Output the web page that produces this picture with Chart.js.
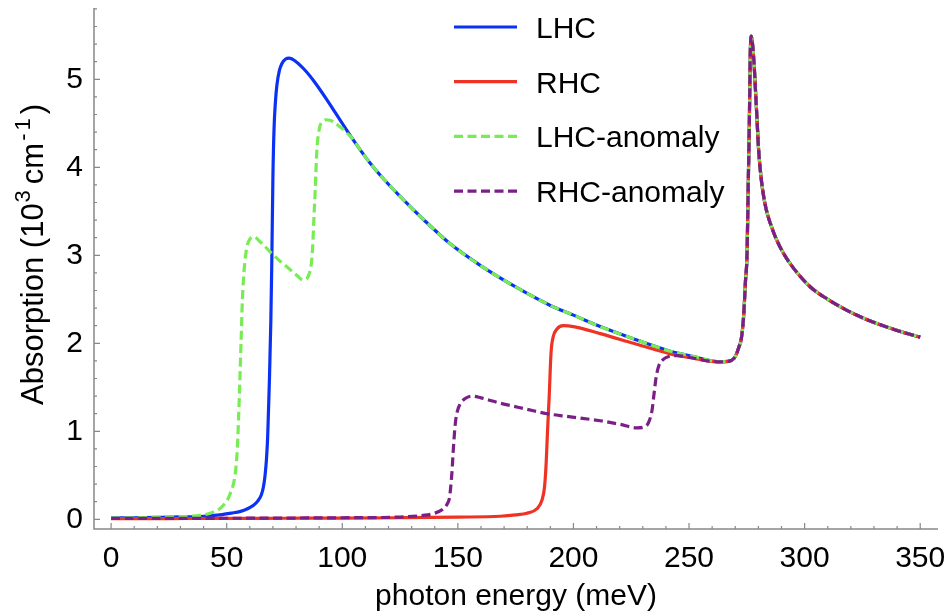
<!DOCTYPE html>
<html>
<head>
<meta charset="utf-8">
<script src="https://cdn.jsdelivr.net/npm/chart.js@4.4.1/dist/chart.umd.min.js"></script>
<style>
  html, body { margin: 0; padding: 0; background: #fff; }
</style>
</head>
<body>
<canvas id="chart" width="950" height="615"></canvas>
<script>
// --- data ---

const xTicks = [0, 50, 100, 150, 200, 250, 300, 350];
const yTicks = [0, 1, 2, 3, 4, 5];
const seriesNames = ['LHC', 'RHC', 'LHC-anomaly', 'RHC-anomaly'];

// LHC up to 100 meV
const lhcLowX = [0, 10, 20, 30, 40, 47, 52, 56, 59, 61.6, 63.5, 65, 65.9, 66.6, 67.2, 67.7, 68.1, 68.5, 69.1, 69.5, 70, 70.5, 71.1, 71.7, 72.8, 73.9, 75.5, 77, 80, 84, 88, 93.3, 97, 100];
const lhcLowY = [0.015, 0.018, 0.022, 0.027, 0.035, 0.05, 0.07, 0.09, 0.12, 0.16, 0.21, 0.28, 0.37, 0.5, 0.68, 0.92, 1.25, 1.6, 2.26, 2.9, 3.9, 4.45, 4.75, 4.93, 5.1, 5.18, 5.23, 5.24, 5.2, 5.1, 4.97, 4.77, 4.62, 4.5];

// LHC-anomaly up to 102 meV
const lhcAnomLowX = [0, 10, 20, 30, 38.5, 44, 48.6, 51.5, 53.7, 54.6, 55.1, 55.6, 56.2, 56.8, 57.6, 58.7, 60.2, 61.6, 65, 68.8, 72, 76, 80, 83, 84.5, 85.8, 86.6, 87.2, 87.7, 88.3, 89, 90.1, 91.5, 93.3, 96, 98, 100, 102];
const lhcAnomLowY = [0.015, 0.018, 0.023, 0.03, 0.045, 0.08, 0.16, 0.29, 0.52, 0.8, 1.12, 1.5, 2.0, 2.5, 2.85, 3.09, 3.19, 3.21, 3.14, 3.04, 2.96, 2.87, 2.78, 2.72, 2.73, 2.8, 2.9, 3.1, 3.4, 3.74, 4.19, 4.44, 4.52, 4.54, 4.52, 4.48, 4.44, 4.39];

// LHC and LHC-anomaly coincide here
const lhcMidX = [104, 108, 112, 117.8, 125, 135, 146.7, 160, 175, 190, 200, 211.6, 225, 241.9, 252, 258];
const lhcMidY = [4.34, 4.19, 4.05, 3.87, 3.67, 3.41, 3.13, 2.88, 2.64, 2.43, 2.32, 2.19, 2.06, 1.91, 1.85, 1.81];

// RHC below ~260 meV
const rhcLowX = [0, 25, 50, 75, 100, 125, 150, 168.3, 175, 179.9, 184.2, 186.4, 187.5, 188.2, 188.8, 189.5, 190.3, 191.2, 192.8, 195.6, 200, 211.6, 226, 241.9, 252, 258];
const rhcLowY = [0.008, 0.009, 0.01, 0.012, 0.014, 0.018, 0.025, 0.035, 0.05, 0.07, 0.12, 0.22, 0.37, 0.64, 1.01, 1.39, 1.89, 2.07, 2.16, 2.2, 2.19, 2.11, 2.0, 1.88, 1.83, 1.8];

// RHC-anomaly below ~260 meV
const rhcAnomLowX = [0, 25, 50, 75, 100, 125, 135, 139.4, 143.8, 145.5, 146.4, 147.4, 148.1, 148.9, 149.8, 151, 153, 156, 160, 168.3, 180, 188.5, 197, 211.6, 220, 227.5, 230.5, 232.5, 234, 234.7, 235.8, 237, 238.5, 241.2, 245, 252, 258];
const rhcAnomLowY = [0.01, 0.011, 0.012, 0.014, 0.018, 0.026, 0.045, 0.065, 0.12, 0.18, 0.25, 0.52, 0.82, 1.09, 1.23, 1.31, 1.37, 1.4, 1.38, 1.32, 1.25, 1.2, 1.17, 1.12, 1.08, 1.04, 1.05, 1.1, 1.24, 1.39, 1.62, 1.75, 1.81, 1.85, 1.86, 1.83, 1.8];

// all four curves share the resonance near 277 meV and the tail
const peakX = [263.5, 267, 269.5, 270.7, 271.6, 272.6, 273.6, 274.4, 275.1, 275.6, 276.1, 276.5, 276.9, 277.3, 277.8, 278.3, 278.8, 279.4, 280.1, 280.9, 281.8, 283.3, 285.2, 287.8, 290.9, 295, 302.5, 310, 318.3, 326, 334, 342, 350];
const peakY = [1.79, 1.795, 1.83, 1.89, 1.96, 2.05, 2.3, 2.7, 3.02, 3.78, 4.53, 5.29, 5.49, 5.44, 5.3, 5.1, 4.85, 4.55, 4.2, 3.95, 3.75, 3.53, 3.36, 3.18, 3.02, 2.86, 2.64, 2.5, 2.375, 2.28, 2.2, 2.13, 2.07];

const lineColors = ['#0b32f4', '#ee3324', '#78ec55', '#7a1f86'];

// --- helpers ---

const FONT = "'Liberation Sans', Arial, Helvetica, sans-serif";

function toPoints(xs, ys) {
    return xs.map((x, i) => ({ x: x, y: ys[i] }));
}

const curves = [
    toPoints(lhcLowX.concat(lhcMidX, peakX), lhcLowY.concat(lhcMidY, peakY)),
    toPoints(rhcLowX.concat(peakX), rhcLowY.concat(peakY)),
    toPoints(lhcAnomLowX.concat(lhcMidX, peakX), lhcAnomLowY.concat(lhcMidY, peakY)),
    toPoints(rhcAnomLowX.concat(peakX), rhcAnomLowY.concat(peakY))
];

const dashed = [false, false, true, true];

const datasets = seriesNames.map((name, i) => ({
    label: name,
    data: curves[i],
    borderColor: lineColors[i],
    borderWidth: 3.2,
    borderDash: dashed[i] ? [9, 4.5] : [],
    order: 4 - i,   // later series are painted on top
    fill: false
}));

// frame with inward major/minor ticks, legend and y title
const axisFrame = {
    id: 'axisFrame',
    beforeDatasetsDraw(chart) {
        const { ctx, chartArea: a, scales: { x, y } } = chart;
        ctx.save();
        ctx.strokeStyle = '#888';
        ctx.lineWidth = 1.5;
        ctx.beginPath();
        ctx.moveTo(a.left, a.top);
        ctx.lineTo(a.left, a.bottom);
        ctx.lineTo(a.right, a.bottom);
        ctx.stroke();

        ctx.lineWidth = 1.2;
        ctx.beginPath();
        for (let i = 0; i * 10 <= x.max; i++) {
            const px = x.getPixelForValue(i * 10);
            const len = i % 5 === 0 ? 6 : 3;
            ctx.moveTo(px, a.bottom);
            ctx.lineTo(px, a.bottom - len);
        }
        for (let i = 0; i * 0.2 <= y.max + 1e-9; i++) {
            const py = y.getPixelForValue(i * 0.2);
            const len = i % 5 === 0 ? 6 : 3;
            ctx.moveTo(a.left, py);
            ctx.lineTo(a.left + len, py);
        }
        ctx.stroke();
        ctx.restore();
    },
    afterDraw(chart) {
        const ctx = chart.ctx;
        ctx.save();

        // legend
        chart.data.datasets.forEach((ds, i) => {
            const ly = 27 + i * 54.7;
            ctx.strokeStyle = ds.borderColor;
            ctx.lineWidth = ds.borderWidth;
            ctx.setLineDash(ds.borderDash);
            ctx.beginPath();
            ctx.moveTo(454, ly);
            ctx.lineTo(517, ly);
            ctx.stroke();
            ctx.setLineDash([]);
            ctx.fillStyle = '#000';
            ctx.font = '30px ' + FONT;
            ctx.textAlign = 'left';
            ctx.textBaseline = 'alphabetic';
            ctx.fillText(ds.label, 536, ly + 11);
        });

        // y title with superscripts
        const parts = [
            { t: 'Absorption (10', sup: false, gap: 1 },
            { t: '3', sup: true, gap: 6 },
            { t: 'cm', sup: false, gap: 2 },
            { t: '-', sup: true, gap: 3 },
            { t: '1', sup: true, gap: 4 },
            { t: ')', sup: false, gap: 0 }
        ];
        ctx.translate(43, 405);
        ctx.rotate(-Math.PI / 2);
        ctx.fillStyle = '#000';
        ctx.textAlign = 'left';
        ctx.textBaseline = 'alphabetic';
        let cx = 0;
        parts.forEach(p => {
            ctx.font = (p.sup ? '22px ' : '31px ') + FONT;
            ctx.fillText(p.t, cx, p.sup ? -13 : 0);
            cx += ctx.measureText(p.t).width + p.gap;
        });
        ctx.restore();
    }
};

new Chart(document.getElementById('chart'), {
    type: 'line',
    data: { datasets: datasets },
    options: {
        responsive: false,
        animation: false,
        layout: { padding: { top: 8, right: 12, left: 0, bottom: 0 } },
        plugins: { legend: { display: false }, tooltip: { enabled: false } },
        elements: { point: { radius: 0 }, line: { cubicInterpolationMode: 'monotone' } },
        scales: {
            x: {
                type: 'linear',
                min: -7.4,
                max: 357.7,
                afterBuildTicks: (s) => { s.ticks = xTicks.map(v => ({ value: v })); },
                afterFit: (s) => { s.height = 86; s.paddingLeft = 0; s.paddingRight = 0; },
                grid: { display: false, drawTicks: false },
                border: { display: false },
                ticks: { padding: 12, color: '#000', maxRotation: 0, autoSkip: false, font: { size: 30, family: FONT } },
                title: { display: true, text: 'photon energy (meV)', color: '#000', font: { size: 30, family: FONT }, padding: { top: 0, bottom: 0 } }
            },
            y: {
                type: 'linear',
                min: -0.11,
                max: 5.81,
                afterBuildTicks: (s) => { s.ticks = yTicks.map(v => ({ value: v })); },
                afterFit: (s) => { s.width = 94; s.paddingTop = 0; s.paddingBottom = 0; },
                grid: { display: false, drawTicks: false },
                border: { display: false },
                ticks: { padding: 11, color: '#000', autoSkip: false, font: { size: 30, family: FONT } }
            }
        }
    },
    plugins: [axisFrame]
});
</script>
</body>
</html>
